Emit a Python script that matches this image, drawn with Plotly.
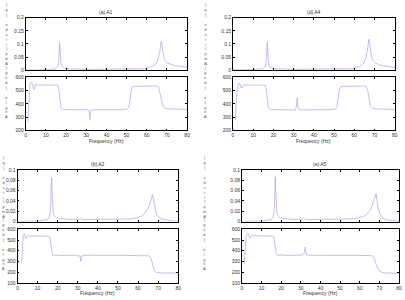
import plotly.graph_objects as go

W, H = 405, 300

# ---------------- data ----------------
# amplitude frequency grid (Hz)
famp = [0, 2, 4, 6, 8, 10, 12, 13, 14, 15,
        15.6, 16.0, 16.3, 16.6, 16.8, 17.0, 17.2, 17.5, 17.8, 18.2,
        18.8, 19.5, 20.5, 22, 24, 26, 28, 30, 31, 31.7,
        32.4, 34, 37, 40, 43, 46, 49, 52, 55, 58,
        60, 62, 63.5, 64.5, 65.3, 66.0, 66.5, 66.9, 67.2, 67.5,
        67.9, 68.3, 68.8, 69.5, 70.5, 72, 74, 76, 78, 80]

amp_a1 = [0.000, 0.000, 0.001, 0.001, 0.001, 0.002, 0.003, 0.003, 0.004, 0.006,
          0.010, 0.016, 0.028, 0.060, 0.104, 0.080, 0.048, 0.026, 0.016, 0.011,
          0.008, 0.007, 0.006, 0.005, 0.004, 0.004, 0.003, 0.003, 0.003, 0.004,
          0.003, 0.003, 0.003, 0.003, 0.003, 0.003, 0.003, 0.004, 0.004, 0.005,
          0.008, 0.012, 0.018, 0.025, 0.035, 0.052, 0.072, 0.098, 0.110, 0.095,
          0.072, 0.055, 0.042, 0.033, 0.026, 0.021, 0.017, 0.015, 0.013, 0.012]

amp_a4 = [0.000, 0.000, 0.001, 0.001, 0.001, 0.002, 0.003, 0.003, 0.004, 0.006,
          0.010, 0.016, 0.026, 0.052, 0.090, 0.107, 0.062, 0.030, 0.018, 0.012,
          0.009, 0.007, 0.006, 0.005, 0.004, 0.004, 0.003, 0.003, 0.003, 0.004,
          0.003, 0.003, 0.003, 0.003, 0.003, 0.003, 0.003, 0.004, 0.004, 0.005,
          0.008, 0.012, 0.018, 0.025, 0.036, 0.055, 0.076, 0.100, 0.118, 0.110,
          0.080, 0.058, 0.044, 0.034, 0.027, 0.021, 0.017, 0.014, 0.012, 0.010]

amp_a2 = [0.000, 0.000, 0.000, 0.001, 0.001, 0.001, 0.002, 0.002, 0.003, 0.004,
          0.007, 0.011, 0.018, 0.035, 0.070, 0.085, 0.055, 0.028, 0.017, 0.012,
          0.009, 0.007, 0.006, 0.005, 0.005, 0.004, 0.004, 0.004, 0.005, 0.006,
          0.004, 0.004, 0.004, 0.004, 0.004, 0.004, 0.004, 0.005, 0.005, 0.006,
          0.008, 0.011, 0.017, 0.022, 0.028, 0.036, 0.042, 0.049, 0.052, 0.048,
          0.038, 0.028, 0.019, 0.012, 0.008, 0.005, 0.003, 0.002, 0.001, 0.001]

amp_a5 = [0.000, 0.000, 0.000, 0.001, 0.001, 0.001, 0.002, 0.002, 0.003, 0.004,
          0.007, 0.010, 0.016, 0.030, 0.060, 0.087, 0.062, 0.032, 0.018, 0.012,
          0.009, 0.007, 0.006, 0.005, 0.005, 0.004, 0.004, 0.004, 0.005, 0.006,
          0.004, 0.004, 0.004, 0.004, 0.004, 0.004, 0.004, 0.005, 0.005, 0.006,
          0.008, 0.010, 0.014, 0.018, 0.022, 0.028, 0.033, 0.038, 0.042, 0.046,
          0.050, 0.054, 0.040, 0.024, 0.013, 0.006, 0.003, 0.002, 0.001, 0.001]

# phase / angle curves
f_ph_ad = [1.1, 1.5, 2.0, 2.5, 3.0, 3.4, 3.9, 4.5, 5.0, 5.6,
           6.3, 7.0, 8.0, 9.0, 10.0, 11.0, 12.0, 13.0, 14.0, 15.0,
           16.0, 16.5, 17.0, 17.5, 18.0, 19.0, 20.0, 21.0, 22.0, 23.0,
           24.0, 25.0, 26.0, 27.0, 28.0, 29.0, 30.0, 31.0, 31.5, 31.8,
           32.2, 33.0, 34.0, 36.0, 38.0, 40.0, 42.0, 44.0, 46.0, 48.0,
           50.0, 50.8, 51.4, 52.0, 52.6, 53.5, 55.0, 57.0, 59.0, 61.0,
           63.0, 65.0, 65.8, 66.5, 67.2, 68.0, 69.0, 70.0, 72.0, 74.0,
           76.0, 78.0, 80.0]

ph_a1 = [265, 420, 530, 560, 565, 548, 512, 520, 552, 548,
         538, 545, 540, 546, 541, 545, 540, 544, 541, 545,
         538, 500, 420, 370, 360, 357, 360, 356, 359, 355,
         358, 356, 359, 355, 358, 356, 358, 355, 330, 282,
         350, 357, 355, 358, 355, 357, 354, 357, 355, 358,
         360, 372, 395, 470, 525, 532, 534, 533, 535, 534,
         536, 535, 530, 490, 430, 385, 368, 364, 361, 362,
         360, 361, 359]

ph_a4 = [278, 380, 500, 540, 556, 550, 525, 520, 540, 545,
         540, 545, 541, 545, 540, 544, 541, 545, 540, 544,
         538, 505, 430, 375, 360, 357, 358, 356, 357, 355,
         357, 355, 356, 354, 356, 354, 355, 356, 400, 447,
         365, 356, 355, 356, 355, 356, 355, 356, 355, 356,
         358, 362, 380, 450, 510, 530, 534, 533, 535, 534,
         535, 535, 532, 510, 440, 380, 368, 364, 362, 361,
         360, 359, 358]

f_ph_b = [2.0, 2.4, 2.8, 3.3, 3.7, 4.1, 4.6, 5.2, 5.8, 6.5,
          7.5, 8.5, 9.5, 10.5, 11.5, 12.5, 13.5, 14.5, 15.5, 16.0,
          16.5, 17.0, 17.5, 18.0, 19.0, 20.0, 21.0, 22.0, 23.0, 24.0,
          25.0, 26.0, 27.0, 28.0, 29.0, 30.0, 31.0, 31.5, 32.0, 33.0,
          35.0, 38.0, 41.0, 44.0, 47.0, 50.0, 53.0, 56.0, 59.0, 62.0,
          64.0, 65.5, 66.5, 67.3, 68.0, 68.9, 70.0, 72.0, 74.0, 76.0,
          78.0, 80.0]

ph_a2 = [288, 450, 540, 561, 540, 515, 530, 545, 540, 535,
         540, 536, 540, 535, 538, 534, 539, 535, 538, 530,
         470, 390, 360, 357, 360, 356, 359, 355, 358, 356,
         359, 355, 358, 356, 358, 350, 355, 303, 352, 358,
         357, 358, 357, 358, 357, 358, 357, 358, 357, 358,
         357, 352, 330, 260, 215, 197, 192, 190, 192, 189,
         191, 195]

f_ph_e = [1.2, 1.6, 2.1, 2.6, 3.0, 3.6, 4.2, 4.8, 5.5, 6.2,
          7.0, 8.0, 9.0, 10.0, 11.0, 12.0, 13.0, 14.0, 15.0, 16.0,
          16.3, 16.9, 17.5, 18.0, 19.0, 20.0, 21.0, 22.0, 23.0, 24.0,
          25.0, 26.0, 27.0, 28.0, 29.0, 30.0, 31.0, 31.8, 32.3, 32.8,
          34.0, 37.0, 40.0, 43.0, 46.0, 49.0, 52.0, 55.0, 58.0, 61.0,
          64.0, 66.0, 67.0, 68.0, 69.0, 70.0, 71.0, 73.0, 75.0, 77.0,
          79.0, 80.0]

ph_a5 = [275, 420, 520, 555, 564, 545, 518, 530, 548, 540,
         543, 538, 542, 537, 541, 536, 540, 537, 540, 536,
         520, 430, 375, 360, 356, 361, 357, 360, 356, 359,
         357, 360, 356, 359, 357, 358, 362, 380, 434, 365,
         358, 357, 357, 356, 357, 356, 357, 356, 357, 357,
         356, 354, 348, 300, 240, 212, 200, 192, 190, 185,
         189, 192]

titles = ["(a) A1", "(d) A4", "(b) A2", "(e) A5"]
xlabel = "Frequency (Hz)"
ylabel_top = "Amplitude (g)"
ylabel_bot = "Angle (deg)"

# ---------------- layout helpers ----------------
def X(px):
    return px / W

def Y(py):
    return 1 - py / H

FONT = "Liberation Sans"
TXT = "#333333"
LINE = "#9696f0"

panels = [
    dict(title=titles[0], xs=(25, 188), top=(15, 68.5), bot=(76, 130),
         fa=famp, a=amp_a1, fp=f_ph_ad, p=ph_a1,
         arng=[0, 0.2], adt=0.05, prng=[200, 600], lx=6),
    dict(title=titles[1], xs=(234.3, 397.7), top=(15, 68.5), bot=(76, 130),
         fa=famp, a=amp_a4, fp=f_ph_ad, p=ph_a4,
         arng=[0, 0.2], adt=0.05, prng=[200, 600], lx=207),
    dict(title=titles[2], xs=(16.7, 179), top=(170.5, 223), bot=(231, 285.5),
         fa=famp, a=amp_a2, fp=f_ph_b, p=ph_a2,
         arng=[0, 0.1], adt=0.02, prng=[100, 600], lx=3),
    dict(title=titles[3], xs=(243.3, 402), top=(170.5, 223), bot=(231, 285.5),
         fa=famp, a=amp_a5, fp=f_ph_e, p=ph_a5,
         arng=[0, 0.1], adt=0.02, prng=[100, 600], lx=206),
]

def axis(domain, rng, dtick, anchor, labels):
    return dict(domain=domain, range=rng, dtick=dtick, tick0=0, anchor=anchor,
                showline=True, linecolor="black", linewidth=0.8, mirror="ticks",
                ticks="inside", ticklen=2, tickwidth=0.6, tickcolor="black",
                showgrid=False, zeroline=False, showticklabels=labels,
                tickfont=dict(size=5, family=FONT, color=TXT), fixedrange=True)

fig = go.Figure()
layout = {}
annotations = []

def stacked(text):
    chars = [c if c != " " else "\u00a0" for c in text]
    return "<br>".join(reversed(chars))

n = 0
for pn in panels:
    xd = [X(pn["xs"][0]), X(pn["xs"][1])]
    for kind in ("top", "bot"):
        n += 1
        sfx = "" if n == 1 else str(n)
        ydom = [Y(pn[kind][1]), Y(pn[kind][0])]
        if kind == "top":
            layout["xaxis" + sfx] = axis(xd, [0, 80], 10, "y" + sfx, False)
            layout["yaxis" + sfx] = axis(ydom, pn["arng"], pn["adt"], "x" + sfx, True)
            xs, ys = pn["fa"], pn["a"]
        else:
            layout["xaxis" + sfx] = axis(xd, [0, 80], 10, "y" + sfx, True)
            layout["yaxis" + sfx] = axis(ydom, pn["prng"], 100, "x" + sfx, True)
            xs, ys = pn["fp"], pn["p"]
        fig.add_trace(go.Scatter(x=xs, y=ys, mode="lines",
                                 line=dict(color=LINE, width=0.6),
                                 xaxis="x" + sfx, yaxis="y" + sfx,
                                 showlegend=False, hoverinfo="skip"))
    cx = X((pn["xs"][0] + pn["xs"][1]) / 2)
    annotations.append(dict(text=pn["title"], x=cx, y=Y(pn["top"][0] - 6),
                            xref="paper", yref="paper", showarrow=False,
                            xanchor="center", yanchor="middle",
                            font=dict(size=5, family=FONT, color=TXT)))
    annotations.append(dict(text=xlabel, x=cx, y=Y(pn["bot"][1] + 10.5),
                            xref="paper", yref="paper", showarrow=False,
                            xanchor="center", yanchor="middle",
                            font=dict(size=5, family=FONT, color=TXT)))
    annotations.append(dict(text=stacked(ylabel_top), x=X(pn["lx"]),
                            y=Y(pn["top"][0] + 17.5),
                            xref="paper", yref="paper", showarrow=False,
                            xanchor="center", yanchor="middle",
                            font=dict(size=3.8, family=FONT, color="#555555")))
    annotations.append(dict(text=stacked(ylabel_bot), x=X(pn["lx"]),
                            y=Y(pn["bot"][0] + 15.5),
                            xref="paper", yref="paper", showarrow=False,
                            xanchor="center", yanchor="middle",
                            font=dict(size=3.8, family=FONT, color="#555555")))

fig.update_layout(width=W, height=H, margin=dict(l=0, r=0, t=0, b=0),
                  paper_bgcolor="white", plot_bgcolor="white",
                  annotations=annotations, **layout)

fig.write_html("out.html", config={"displayModeBar": False})
